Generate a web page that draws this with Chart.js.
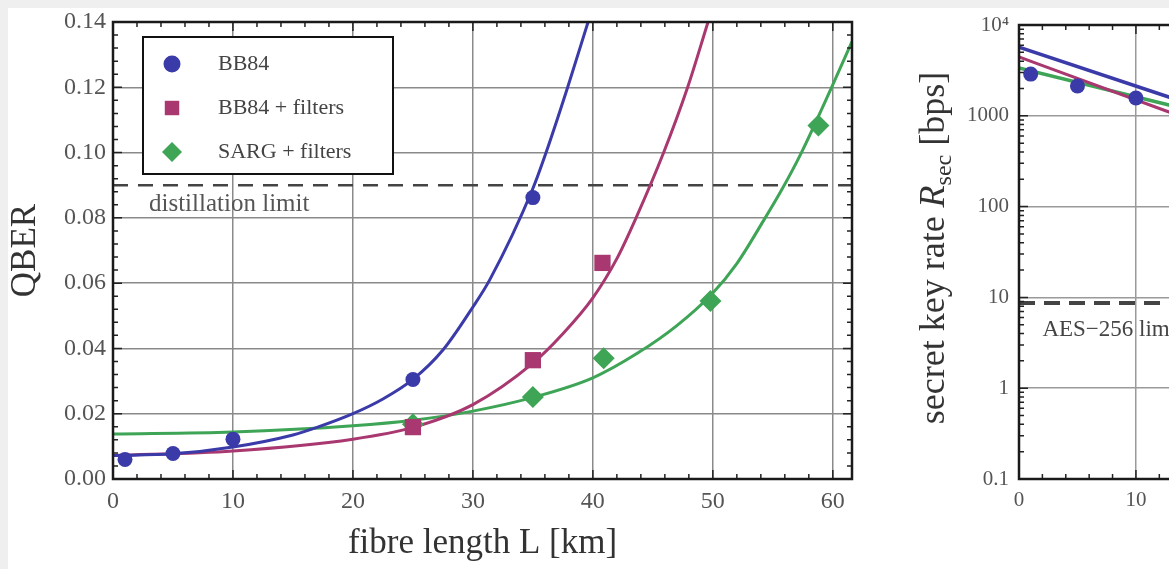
<!DOCTYPE html>
<html>
<head>
<meta charset="utf-8">
<script src="https://cdn.jsdelivr.net/npm/chart.js@4.4.0/dist/chart.umd.min.js"></script>
<style>
    html, body { margin: 0; padding: 0; width: 1169px; height: 569px; overflow: hidden; background: #efefef; }
    #panel { position: absolute; left: 8px; top: 8px; width: 1161px; height: 561px; background: #fff; }
    canvas { position: absolute; top: 0; }
    #qber-chart { left: 0; }
    #rate-chart { left: 880px; }
</style>
</head>
<body>
<div id="panel"></div>
<canvas id="qber-chart" width="870" height="569"></canvas>
<canvas id="rate-chart" width="884" height="569"></canvas>
<script>
const SERIF = "'Liberation Serif', 'Times New Roman', serif";

// QBER panel, measured points
const bb84Km = [1, 5, 10, 25, 35];
const bb84Qber = [0.0060, 0.0078, 0.0122, 0.0305, 0.0862];
const filtKm = [25, 35, 40.8];
const filtQber = [0.0159, 0.0364, 0.0662];
const sargKm = [25, 35, 40.9, 49.8, 58.8];
const sargQber = [0.0168, 0.0251, 0.0370, 0.0545, 0.1083];

// QBER panel, fitted curves
const bb84FitKm = [0, 5, 10, 15, 17, 20, 22.5, 25, 27.5, 30, 31.4, 35, 36.1, 37.9, 39.6];
const bb84FitQber = [0.0072, 0.0077, 0.0098, 0.0135, 0.0158, 0.0200, 0.0245, 0.0305, 0.0395, 0.0527, 0.0610, 0.0890, 0.1000, 0.1200, 0.1400];
const filtFitKm = [0, 10, 20, 25, 30, 35, 37.5, 40, 42, 43.6, 45.9, 47.9, 49.6];
const filtFitQber = [0.0072, 0.0086, 0.0122, 0.0158, 0.0228, 0.0355, 0.0445, 0.0555, 0.0675, 0.0800, 0.1000, 0.1200, 0.1400];
const sargFitKm = [0, 10, 20, 25, 30, 35, 40, 43.7, 47, 50, 52, 54.2, 55.8, 57.25, 59.9, 61.6];
const sargFitQber = [0.0138, 0.0144, 0.0163, 0.0180, 0.0208, 0.0250, 0.0310, 0.0385, 0.0470, 0.0570, 0.0660, 0.0790, 0.0890, 0.0990, 0.1200, 0.1340];
const distillationLimit = 0.09;

// key rate panel (only its left part is in the picture)
const rateLineKm = [0, 13];
const rateBb84 = [5700, 1580];
const rateFilt = [4450, 1080];
const rateSarg = [3360, 1300];
const rateDotKm = [1, 5, 10];
const rateDot = [2880, 2130, 1570];
const aesLimit = 8.7;

const qberKmMax = 61.6;
const rateKmMax = 62;
const rateTicks = [0.1, 1, 10, 100, 1000, 10000];

const BLUE = '#3a3aa8';
const MAGENTA = '#a8386f';
const GREEN = '#3ea456';

const pts = (xs, ys) => xs.map((x, i) => ({ x, y: ys[i] }));

const markerSet = (label, xs, ys, color, pointStyle, radius) => ({
    label,
    data: pts(xs, ys),
    showLine: false,
    pointStyle,
    pointRadius: radius,
    backgroundColor: color,
    borderColor: color,
    borderWidth: 0,
    order: 0,
});

const curveSet = (xs, ys, color, width = 3) => ({
    data: pts(xs, ys),
    showLine: true,
    pointRadius: 0,
    borderColor: color,
    borderWidth: width,
    cubicInterpolationMode: 'monotone',
    order: 1,
});

const limitSet = (xMax, value, dash, width) => ({
    data: [{ x: 0, y: value }, { x: xMax, y: value }],
    showLine: true,
    pointRadius: 0,
    borderColor: '#444',
    borderWidth: width,
    borderDash: dash,
    order: 2,
});

const drawMarker = (ctx, style, x, y, r) => {
    ctx.beginPath();
    if (style === 'circle') {
        ctx.arc(x, y, r, 0, Math.PI * 2);
    } else if (style === 'rect') {
        ctx.rect(x - r * 0.85, y - r * 0.85, r * 1.7, r * 1.7);
    } else {
        ctx.moveTo(x, y - r);
        ctx.lineTo(x + r, y);
        ctx.lineTo(x, y + r);
        ctx.lineTo(x - r, y);
        ctx.closePath();
    }
    ctx.fill();
};

// frame round the plot with inward major and minor ticks on all sides
const frameTicks = {
    id: 'frameTicks',
    afterDatasetsDraw(chart, args, o) {
        const { ctx, chartArea: a, scales: { x, y } } = chart;
        ctx.save();
        ctx.strokeStyle = '#222';
        ctx.lineWidth = 1.5;
        ctx.beginPath();
        const mark = (scale, values, len) => values.forEach((v) => {
            const p = scale.getPixelForValue(v);
            if (scale.isHorizontal()) {
                if (p < a.left || p > a.right) return;
                ctx.moveTo(p, a.bottom); ctx.lineTo(p, a.bottom - len);
                ctx.moveTo(p, a.top); ctx.lineTo(p, a.top + len);
            } else {
                if (p < a.top || p > a.bottom) return;
                ctx.moveTo(a.left, p); ctx.lineTo(a.left + len, p);
                ctx.moveTo(a.right, p); ctx.lineTo(a.right - len, p);
            }
        });
        mark(x, x.ticks.map((t) => t.value), o.major);
        mark(y, y.ticks.map((t) => t.value), o.major);
        mark(x, o.xMinor, o.minor);
        mark(y, o.yMinor, o.minor);
        ctx.stroke();
        ctx.strokeStyle = '#1a1a1a';
        ctx.lineWidth = 2.5;
        ctx.strokeRect(a.left, a.top, a.right - a.left, a.bottom - a.top);
        ctx.restore();
    },
};

const boxLegend = {
    id: 'boxLegend',
    afterDraw(chart, args, o) {
        if (!o.display) return;
        const { ctx, chartArea: a } = chart;
        const items = chart.data.datasets.filter((d) => d.label);
        const left = a.left + o.dx;
        const top = a.top + o.dy;
        ctx.save();
        ctx.fillStyle = '#fff';
        ctx.fillRect(left, top, o.width, o.height);
        ctx.strokeStyle = '#111';
        ctx.lineWidth = 2;
        ctx.strokeRect(left, top, o.width, o.height);
        ctx.font = o.font;
        ctx.textBaseline = 'middle';
        items.forEach((d, i) => {
            const cy = top + o.firstRow + i * o.rowGap;
            ctx.fillStyle = d.backgroundColor;
            drawMarker(ctx, d.pointStyle, left + o.markerX, cy, o.markerSize[i]);
            ctx.fillStyle = '#444';
            ctx.fillText(d.label, left + o.textX, cy);
        });
        ctx.restore();
    },
};

const notes = {
    id: 'notes',
    afterDatasetsDraw(chart, args, o) {
        const { ctx, scales: { x, y } } = chart;
        (o.items || []).forEach((n) => {
            ctx.save();
            ctx.font = n.font;
            ctx.fillStyle = n.color;
            ctx.textBaseline = 'middle';
            ctx.fillText(n.text, x.getPixelForValue(n.x), y.getPixelForValue(n.y));
            ctx.restore();
        });
    },
};

// y title with italic R and subscript, drawn by hand
const richTitle = {
    id: 'richTitle',
    afterDraw(chart, args, o) {
        if (!o.display) return;
        const { ctx, chartArea: a } = chart;
        const big = `${o.size}px ${SERIF}`;
        const parts = [
            { text: 'secret key rate ', font: big, dy: 0 },
            { text: 'R', font: `italic ${o.size}px ${SERIF}`, dy: 0 },
            { text: 'sec', font: `${Math.round(o.size * 0.68)}px ${SERIF}`, dy: o.size * 0.28 },
            { text: ' [bps]', font: big, dy: 0 },
        ];
        ctx.save();
        ctx.translate(o.x, (a.top + a.bottom) / 2 - 4);
        ctx.rotate(-Math.PI / 2);
        ctx.fillStyle = o.color;
        ctx.textBaseline = 'middle';
        let total = 0;
        parts.forEach((p) => { ctx.font = p.font; p.w = ctx.measureText(p.text).width; total += p.w; });
        let cx = -total / 2;
        parts.forEach((p) => {
            ctx.font = p.font;
            ctx.fillText(p.text, cx, p.dy);
            cx += p.w;
        });
        ctx.restore();
    },
};

Chart.register(frameTicks, boxLegend, notes, richTitle);

const kmMinor = [];
for (let i = 0; i <= 31; i++) if (i % 5 !== 0) kmMinor.push(i * 2);
const qberMinor = [];
for (let i = 0; i <= 35; i++) if (i % 5 !== 0) qberMinor.push(i * 0.004);
const rateMinor = [];
for (let e = -1; e <= 3; e++) for (let m = 2; m <= 9; m++) rateMinor.push(m * Math.pow(10, e));

const tickFont = (size) => ({ family: SERIF, size });

new Chart(document.getElementById('qber-chart'), {
    type: 'scatter',
    data: {
        datasets: [
            markerSet('BB84', bb84Km, bb84Qber, BLUE, 'circle', 7.5),
            markerSet('BB84 + filters', filtKm, filtQber, MAGENTA, 'rect', 11.5),
            markerSet('SARG + filters', sargKm, sargQber, GREEN, 'rectRot', 11),
            curveSet(bb84FitKm, bb84FitQber, BLUE),
            curveSet(filtFitKm, filtFitQber, MAGENTA),
            curveSet(sargFitKm, sargFitQber, GREEN),
            limitSet(qberKmMax, distillationLimit, [15, 10], 2.5),
        ],
    },
    options: {
        responsive: false,
        animation: false,
        events: [],
        layout: { padding: { top: 22, right: 18, left: 0, bottom: 0 } },
        plugins: {
            legend: { display: false },
            tooltip: { enabled: false },
            frameTicks: { xMinor: kmMinor, yMinor: qberMinor, major: 9, minor: 5 },
            boxLegend: {
                display: true, dx: 30, dy: 15, width: 250, height: 137,
                firstRow: 27, rowGap: 44, markerX: 29, textX: 75,
                markerSize: [8.5, 8.5, 10], font: `22px ${SERIF}`,
            },
            notes: { items: [{ text: 'distillation limit', x: 3, y: 0.084, font: `25px ${SERIF}`, color: '#555' }] },
            richTitle: { display: false },
        },
        scales: {
            x: {
                type: 'linear',
                min: 0,
                max: qberKmMax,
                afterFit: (s) => { s.height = 90; },
                ticks: { stepSize: 10, includeBounds: false, padding: 8, color: '#555', font: tickFont(24) },
                grid: { color: '#8a8a8a', lineWidth: 1.5, drawTicks: false },
                border: { display: false },
                title: { display: true, text: 'fibre length L [km]', color: '#333', font: tickFont(35), padding: { bottom: 4 } },
            },
            y: {
                min: 0,
                max: 0.14,
                afterFit: (s) => { s.width = 113; },
                ticks: { stepSize: 0.02, padding: 7, color: '#555', font: tickFont(24), callback: (v) => v.toFixed(2) },
                grid: { color: '#8a8a8a', lineWidth: 1.5, drawTicks: false },
                border: { display: false },
                title: { display: true, text: 'QBER', color: '#333', font: tickFont(35), padding: { top: 5 } },
            },
        },
    },
});

new Chart(document.getElementById('rate-chart'), {
    type: 'scatter',
    data: {
        datasets: [
            markerSet('', rateDotKm, rateDot, BLUE, 'circle', 7.5),
            curveSet(rateLineKm, rateBb84, BLUE, 3.5),
            curveSet(rateLineKm, rateFilt, MAGENTA, 3),
            curveSet(rateLineKm, rateSarg, GREEN, 3.5),
            limitSet(rateKmMax, aesLimit, [16, 9], 4),
        ],
    },
    options: {
        responsive: false,
        animation: false,
        events: [],
        layout: { padding: { top: 25, right: 20, left: 0, bottom: 0 } },
        plugins: {
            legend: { display: false },
            tooltip: { enabled: false },
            frameTicks: { xMinor: kmMinor, yMinor: rateMinor, major: 9, minor: 5 },
            boxLegend: { display: false },
            notes: { items: [{ text: 'AES\u2212256 limit', x: 2, y: 4.4, font: `23px ${SERIF}`, color: '#444' }] },
            richTitle: { display: true, x: 55, size: 36, color: '#333' },
        },
        scales: {
            x: {
                type: 'linear',
                min: 0,
                max: rateKmMax,
                afterFit: (s) => { s.height = 90; },
                ticks: { stepSize: 10, includeBounds: false, padding: 9, color: '#555', font: tickFont(21) },
                grid: { color: '#9a9a9a', lineWidth: 1.5, drawTicks: false },
                border: { display: false },
            },
            y: {
                type: 'logarithmic',
                min: 0.1,
                max: 10000,
                afterBuildTicks: (s) => { s.ticks = rateTicks.map((value) => ({ value })); },
                afterFit: (s) => { s.width = 139; },
                ticks: { padding: 10, color: '#555', font: tickFont(21), callback: (v) => (v >= 10000 ? '10\u2074' : String(v)) },
                grid: { color: '#9a9a9a', lineWidth: 1.5, drawTicks: false },
                border: { display: false },
            },
        },
    },
});
</script>
</body>
</html>
